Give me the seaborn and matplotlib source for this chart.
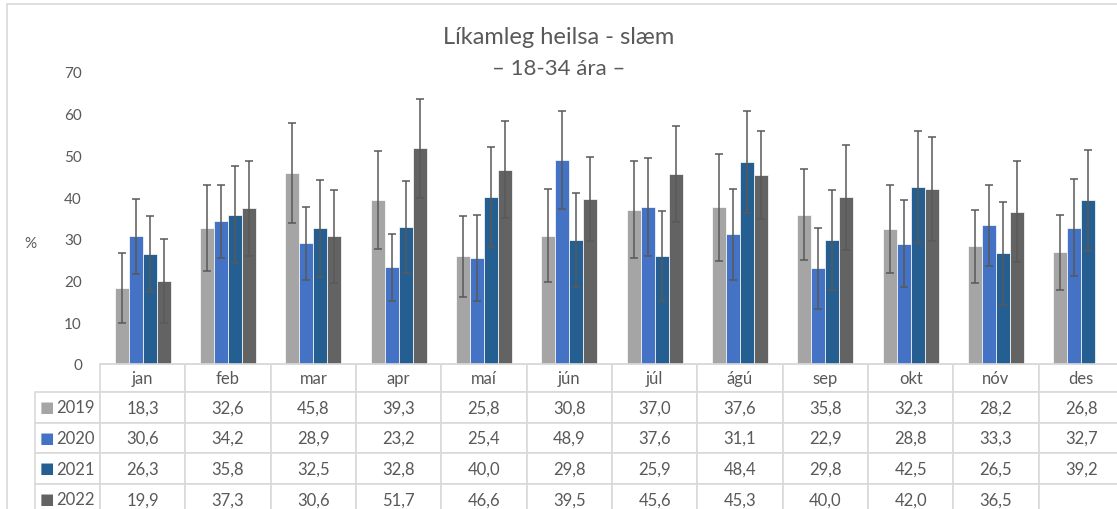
import numpy as np
import pandas as pd
import matplotlib.pyplot as plt
import seaborn as sns
from matplotlib.table import Table
from matplotlib.lines import Line2D

months = ['jan', 'feb', 'mar', 'apr', 'maí', 'jún', 'júl', 'ágú', 'sep', 'okt', 'nóv', 'des']
years = ['2019', '2020', '2021', '2022']

v2019 = [18.3, 32.6, 45.8, 39.3, 25.8, 30.8, 37.0, 37.6, 35.8, 32.3, 28.2, 26.8]
v2020 = [30.6, 34.2, 28.9, 23.2, 25.4, 48.9, 37.6, 31.1, 22.9, 28.8, 33.3, 32.7]
v2021 = [26.3, 35.8, 32.5, 32.8, 40.0, 29.8, 25.9, 48.4, 29.8, 42.5, 26.5, 39.2]
v2022 = [19.9, 37.3, 30.6, 51.7, 46.6, 39.5, 45.6, 45.3, 40.0, 42.0, 36.5, np.nan]

# error bar half-widths
e2019 = [8.4, 10.4, 12.0, 11.7, 9.7, 11.1, 11.7, 12.8, 10.9, 10.5, 8.8, 9.0]
e2020 = [9.0, 8.8, 8.7, 8.0, 10.3, 11.7, 11.7, 10.9, 9.8, 10.4, 9.7, 11.7]
e2021 = [9.1, 11.7, 11.7, 11.0, 12.0, 11.3, 10.7, 12.3, 12.0, 13.4, 12.3, 12.1]
e2022 = [10.0, 11.3, 11.2, 11.8, 11.7, 10.1, 11.5, 10.5, 12.6, 12.4, 12.1, np.nan]

colors = ['#A5A5A5', '#4472C4', '#255E91', '#636363']
txt = '#595959'
grid = '#D9D9D9'

vals = {'2019': v2019, '2020': v2020, '2021': v2021, '2022': v2022}
errs = {'2019': e2019, '2020': e2020, '2021': e2021, '2022': e2022}

rows = []
for y in years:
    for m, v in zip(months, vals[y]):
        rows.append({'month': m, 'year': y, 'value': v})
df = pd.DataFrame(rows)

sns.set_style('white')
plt.rcParams['font.family'] = ['Lato', 'DejaVu Sans']

W, H = 1117, 510
AX_W, AX_H = 1024, 292
fig = plt.figure(figsize=(W / 100, H / 100), dpi=100)
ax = fig.add_axes([100 / W, (H - 365) / H, AX_W / W, AX_H / H])

sns.barplot(data=df, x='month', y='value', hue='year', order=months, hue_order=years,
            palette=colors, width=0.66, errorbar=None, legend=False,
            edgecolor='white', linewidth=0.5, saturation=1, ax=ax)

# error bars on top of the bars seaborn placed
for y, cont in zip(years, ax.containers):
    for bar in cont:
        h = bar.get_height()
        if np.isnan(h):
            continue
        xc = bar.get_x() + bar.get_width() / 2
        m = int(round(xc))
        ax.errorbar(xc, h, yerr=errs[y][m], fmt='none', ecolor=txt,
                    elinewidth=1.1, capsize=3, capthick=1.1, zorder=5)

ax.set_ylim(0, 70)
ax.set_yticks(range(0, 71, 10))
ax.set_xlim(-0.5, 11.5)
ax.set_xticks([])
ax.set_xlabel('')
ax.set_ylabel('')
ax.tick_params(axis='y', length=0, pad=13, labelsize=11, labelcolor=txt)
for s in ['top', 'right', 'left']:
    ax.spines[s].set_visible(False)
ax.spines['bottom'].set_color(grid)
ax.spines['bottom'].set_linewidth(1.2)

# data table under the chart (sizes in axes fractions)
lw_lab, lw_col = 65 / AX_W, 1 / 12
h_head, h_row = 28 / AX_H, 30.7 / AX_H
tot_h = h_head + 4 * h_row
tab = Table(ax, bbox=[0, -tot_h, 1, tot_h])
for j, m in enumerate(months):
    tab.add_cell(0, j, lw_col, h_head, text=m, loc='center')
for i, y in enumerate(years):
    tab.add_cell(i + 1, -1, lw_lab, h_row, text=y, loc='right')
    for j in range(12):
        v = vals[y][j]
        t = '' if np.isnan(v) else f'{v:.1f}'.replace('.', ',')
        tab.add_cell(i + 1, j, lw_col, h_row, text=t, loc='center')
tab.auto_set_font_size(False)
for key, cell in tab.get_celld().items():
    cell.set_edgecolor(grid)
    cell.set_linewidth(1.2)
    cell.get_text().set_color(txt)
    cell.get_text().set_fontsize(12)
    if key[1] == -1:
        cell.PAD = 0.08
ax.add_table(tab)

# colour keys in the row labels
for i, c in enumerate(colors):
    fig.text(47 / W, 1 - (407.5 + i * 30.7) / H, '■', color=c, fontsize=11,
             ha='center', va='center', family='DejaVu Sans')

fig.text(0.5, 1 - 38 / H, 'Líkamleg heilsa - slæm', ha='center', va='center',
         fontsize=17, color=txt)
fig.text(0.5, 1 - 69 / H, '– 18-34 ára –', ha='center', va='center',
         fontsize=16, color=txt)
fig.text(30 / W, 1 - 244 / H, '%', ha='center', va='center', fontsize=11, color=txt)

# outer chart border
fig.add_artist(Line2D([7 / W, 7 / W], [0, 1 - 5 / H], color=grid, lw=1.2))
fig.add_artist(Line2D([7 / W, 1], [1 - 5 / H, 1 - 5 / H], color=grid, lw=1.2))

fig.savefig('out.png', dpi=100)
